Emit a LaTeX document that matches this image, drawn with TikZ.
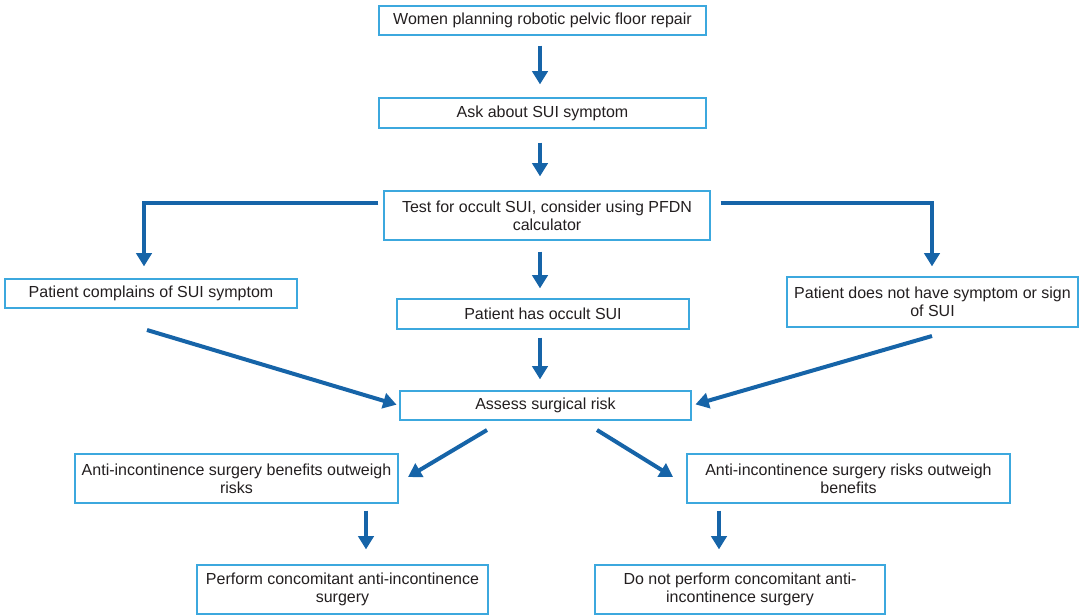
\documentclass[tikz,border=0pt]{standalone}
\usepackage{fontspec}
\setmainfont{Liberation Sans}
\usetikzlibrary{arrows.meta}
\definecolor{arrowblue}{RGB}{22,100,168}
\definecolor{boxblue}{RGB}{60,168,222}
\definecolor{txt}{RGB}{35,31,32}
\tikzset{
  bx/.style 2 args={draw=boxblue, line width=0.9pt, fill=white, text=txt, align=center,
    inner sep=0pt, minimum width=#1*0.75pt, minimum height=#2*0.75pt,
    font=\fontsize{12}{13.6}\selectfont},
  arr/.style={draw=arrowblue, line width=3pt,
    -{Triangle[width=11.5pt,length=10pt]}}
}
\begin{document}
\begin{tikzpicture}[x=0.75pt,y=-0.75pt]
\useasboundingbox (0,0) rectangle (1083,615);
\node[bx={327}{29}] (w) at (542.5,20.5) {Women planning robotic pelvic floor repair};
\node[bx={327}{30}] (ask) at (542.5,113) {Ask about SUI symptom};
\node[bx={326}{49}] (test) at (547,215.5) {Test for occult SUI, consider using PFDN\\calculator};
\node[bx={292}{29}] (comp) at (151,293.5) {Patient complains of SUI symptom};
\node[bx={292}{30}] (occ) at (543,314) {Patient has occult SUI};
\node[bx={291}{50}] (none) at (932.5,302) {Patient does not have symptom or sign\\of SUI};
\node[bx={291}{29}] (assess) at (545.5,405.5) {Assess surgical risk};
\node[bx={323}{49}] (ben) at (236.5,478.5) {Anti-incontinence surgery benefits outweigh\\risks};
\node[bx={323}{49}] (risk) at (848.5,478.5) {Anti-incontinence surgery risks outweigh\\benefits};
\node[bx={291}{49}] (perf) at (342.5,589.5) {Perform concomitant anti-incontinence\\surgery};
\node[bx={290}{49}] (dont) at (740,589.5) {Do not perform concomitant anti-\\incontinence surgery};

\coordinate (s47) at (147,330);
\coordinate (s67) at (932,336);
\coordinate (s78) at (487,430);
\coordinate (t78) at (408,477);
\coordinate (s79) at (597,430);
\coordinate (t79) at (673,477);

\draw[arr, shorten <=7.5pt, shorten >=9.75pt] (w.south -| 540,0) -- (ask.north -| 540,0);
\draw[arr, shorten <=10.5pt, shorten >=10.5pt] (ask.south -| 540,0) -- (test.north -| 540,0);
\draw[arr, shorten <=3.75pt, shorten >=9pt] (test.west |- 0,203) -| (comp.north -| 144,0);
\draw[arr, shorten <=7.5pt, shorten >=7.5pt] (test.east |- 0,203) -| (none.north -| 932,0);
\draw[arr, shorten <=8.25pt, shorten >=7.5pt] (test.south -| 540,0) -- (occ.north -| 540,0);
\draw[arr, shorten <=6pt, shorten >=8.25pt] (occ.south -| 540,0) -- (assess.north -| 540,0);
\draw[arr, shorten >=2.25pt] (s47) -- (assess.west);
\draw[arr, shorten >=3pt] (s67) -- (assess.east);
\draw[arr] (s78) -- (t78);
\draw[arr] (s79) -- (t79);
\draw[arr, shorten <=5.25pt, shorten >=11.25pt] (ben.south -| 366,0) -- (perf.north -| 366,0);
\draw[arr, shorten <=5.25pt, shorten >=11.25pt] (risk.south -| 719,0) -- (dont.north -| 719,0);
\end{tikzpicture}
\end{document}
